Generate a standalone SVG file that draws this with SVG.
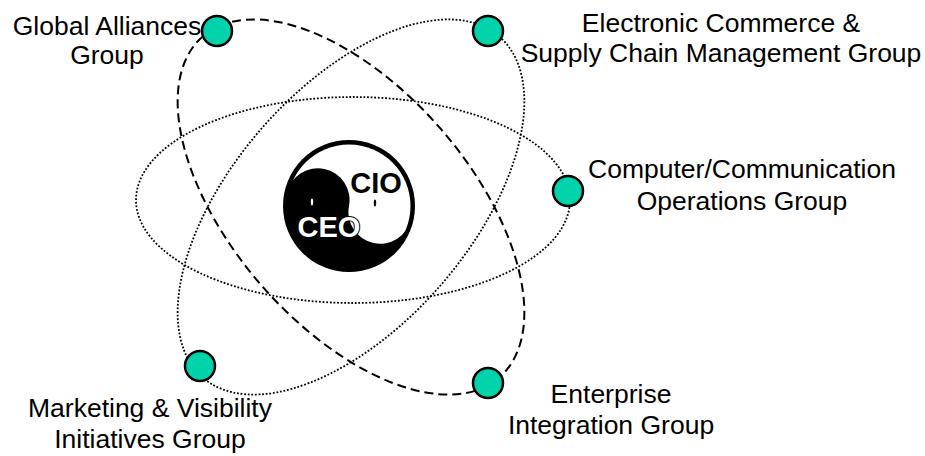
<svg xmlns="http://www.w3.org/2000/svg" width="925" height="456" viewBox="0 0 925 456">
<style>
.orb{fill:none;stroke:#000}
.dot{stroke-width:1.8;stroke-dasharray:1.8 1.8}
.dash{stroke-width:2;stroke-dasharray:9 5}
.node{fill:#00D2AA;stroke:#000;stroke-width:2.5}
.lbl{font-family:"Liberation Sans",Arial,sans-serif;font-size:26.5px;fill:#000;text-anchor:middle}
.yy{font-family:"Liberation Sans",Arial,sans-serif;font-size:29px;font-weight:bold;text-anchor:middle}
</style>
<rect width="925" height="456" fill="#fff"/>
<g id="connectors">
<ellipse class="orb dot" cx="353" cy="200" rx="217" ry="103"/>
<ellipse class="orb dash" cx="351" cy="207" rx="226" ry="119" transform="rotate(49 351 207)"/>
<ellipse class="orb dot" cx="351" cy="207" rx="226" ry="119" transform="rotate(-49 351 207)"/>
</g>
<g id="center">
<circle cx="349" cy="206" r="66" fill="#000"/>
<circle cx="349" cy="206" r="61.5" fill="#fff"/>
<path d="M286.9 192.8 A63.5 63.5 0 0 0 411.1 219.2 A31.75 31.75 0 0 1 349 206 A31.75 31.75 0 0 0 286.9 192.8 Z" fill="#000"/>
<ellipse cx="312" cy="202" rx="1.2" ry="3.5" fill="#fff"/>
<ellipse cx="375" cy="203" rx="1.2" ry="3.5" fill="#000"/>
<text class="yy" x="376" y="193" fill="#000" stroke="#fff" stroke-width="3" paint-order="stroke">CIO</text>
<text class="yy" x="329" y="237" fill="#fff" stroke="#000" stroke-width="2" paint-order="stroke">CEO</text>
</g>
<g id="global">
<circle class="node" cx="217" cy="31" r="15"/>
<text class="lbl" x="107" y="35">Global Alliances</text>
<text class="lbl" x="107" y="64">Group</text>
</g>
<g id="ecommerce">
<circle class="node" cx="488" cy="31" r="15"/>
<text class="lbl" x="721" y="32">Electronic Commerce &amp;</text>
<text class="lbl" x="721" y="62">Supply Chain Management Group</text>
</g>
<g id="computer">
<circle class="node" cx="568" cy="191" r="15"/>
<text class="lbl" x="742" y="178">Computer/Communication</text>
<text class="lbl" x="742" y="210">Operations Group</text>
</g>
<g id="marketing">
<circle class="node" cx="200" cy="366" r="15"/>
<text class="lbl" x="150" y="417">Marketing &amp; Visibility</text>
<text class="lbl" x="150" y="448">Initiatives Group</text>
</g>
<g id="enterprise">
<circle class="node" cx="488" cy="383" r="15"/>
<text class="lbl" x="611" y="403">Enterprise</text>
<text class="lbl" x="611" y="434">Integration Group</text>
</g>
</svg>
